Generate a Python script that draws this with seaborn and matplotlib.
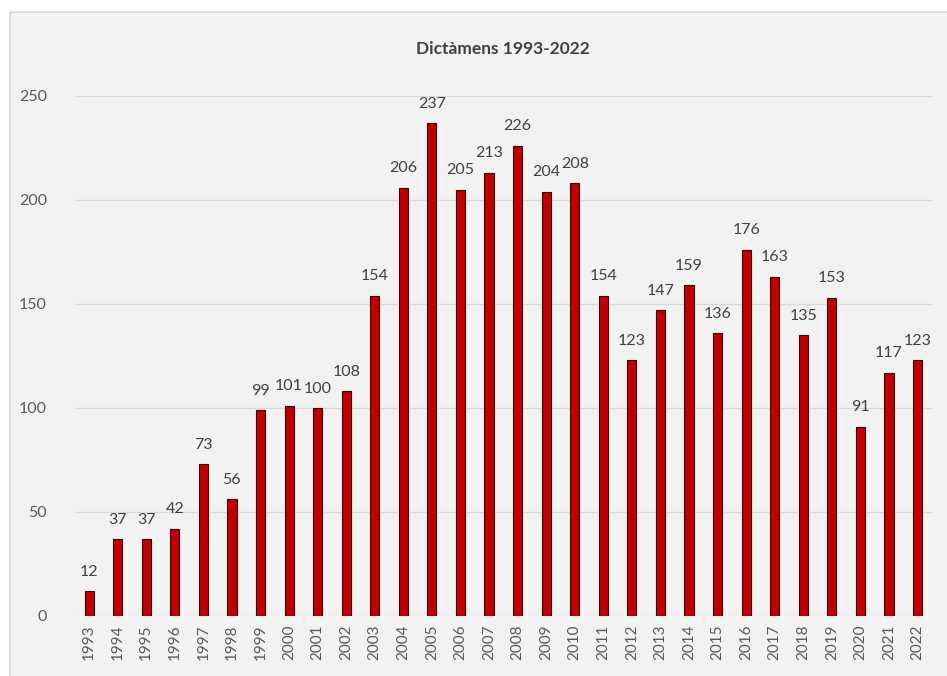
import matplotlib
matplotlib.use("Agg")
import matplotlib.pyplot as plt
import matplotlib.patches as mpatches
import seaborn as sns
import pandas as pd

# --- data ---
years = [str(y) for y in range(1993, 2023)]
dictamens = [12, 37, 37, 42, 73, 56, 99, 101, 100, 108, 154, 206, 237, 205, 213,
             226, 204, 208, 154, 123, 147, 159, 136, 176, 163, 135, 153, 91, 117, 123]
yticks = [0, 50, 100, 150, 200, 250]

df = pd.DataFrame({"any": years, "n": dictamens})

BG = "#f2f2f2"
BAR = "#c00000"
TXT = "#595959"

sns.set_theme(style="white")
plt.rcParams["font.family"] = ["Lato", "DejaVu Sans"]

fig = plt.figure(figsize=(9.47, 6.76), dpi=100, facecolor="white")
# chart frame
fig.patches.append(mpatches.Rectangle((10 / 947, -0.01), 1.0, 1 - 12 / 676 + 0.01,
                                      transform=fig.transFigure, facecolor=BG,
                                      edgecolor="#d9d9d9", linewidth=1.2, zorder=-10))
ax = fig.add_axes([0.079, 0.0888, 0.905, 0.7692])
ax.set_facecolor(BG)

sns.barplot(data=df, x="any", y="n", color=BAR, width=0.32, saturation=1,
            edgecolor="#3a0000", linewidth=0.8, ax=ax, zorder=3)

for i, v in enumerate(dictamens):
    ax.text(i, v + 6, str(v), ha="center", va="bottom", fontsize=11.5, color="#404040")

ax.set_ylim(0, 250)
ax.set_yticks(yticks)
ax.set_xlim(-0.5, len(years) - 0.5)
ax.grid(axis="y", color="#d9d9d9", linewidth=1, zorder=0)
ax.set_axisbelow(True)
for s in ax.spines.values():
    s.set_visible(False)
ax.tick_params(axis="x", rotation=90, labelsize=11, colors=TXT, length=0, pad=6)
ax.tick_params(axis="y", labelsize=11.5, colors=TXT, length=0, pad=20)
ax.set_xlabel("")
ax.set_ylabel("")
ax.set_title("Dictàmens 1993-2022", fontsize=12.5, fontweight="bold", color="#404040", pad=30)

fig.savefig("out.png", dpi=100, facecolor="white")
